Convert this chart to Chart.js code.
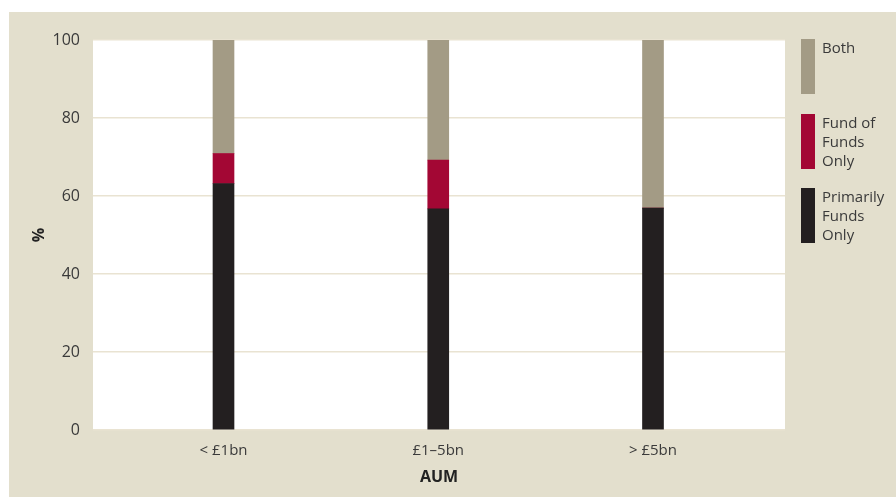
<!DOCTYPE html>
<html>
<head>
<meta charset="utf-8">
<script src="https://cdn.jsdelivr.net/npm/chart.js@4"></script>
<style>
  html, body { margin: 0; padding: 0; background: #fff; }
  canvas { display: block; }
</style>
</head>
<body>
<canvas id="aum" width="896" height="497"></canvas>
<script>
// AUM bands and the share (%) of each answer in every band
var categories = ['< £1bn', '£1–5bn', '> £5bn'];
var primarilyFunds = [63.2, 56.7, 56.9];
var fundOfFunds = [7.7, 12.5, 0];
var both = [29.1, 30.8, 43.1];
var yTicks = [0, 20, 40, 60, 80, 100];

var legendLines = {
    'Both': ['Both'],
    'Fund of Funds Only': ['Fund of', 'Funds', 'Only'],
    'Primarily Funds Only': ['Primarily', 'Funds', 'Only']
};

var FONT = '"Open Sans", "DejaVu Sans", sans-serif';
var BEIGE = '#e3dfcd';
var TEXT = '#3a3a3a';

function points(values) {
    return values.map((v, i) => ({ x: i, y: v }));
}

// beige panel behind everything, white plotting area on top of it
var panel = {
    id: 'panel',
    beforeDraw: (chart) => {
        var ctx = chart.ctx, a = chart.chartArea;
        ctx.save();
        ctx.fillStyle = '#ffffff';
        ctx.fillRect(0, 0, chart.width, chart.height);
        ctx.fillStyle = BEIGE;
        ctx.fillRect(9, 12, chart.width - 9, chart.height - 12);
        ctx.fillStyle = '#ffffff';
        ctx.fillRect(a.left, a.top, a.right - a.left, a.bottom - a.top);
        ctx.restore();
    }
};

// tall swatches with wrapped labels, top to bottom = top of stack first
var sideLegend = {
    id: 'sideLegend',
    afterDraw: (chart) => {
        var ctx = chart.ctx;
        var tops = [39, 114, 188];
        var sets = chart.data.datasets.slice().reverse();
        ctx.save();
        ctx.font = '15px ' + FONT;
        ctx.textBaseline = 'alphabetic';
        ctx.textAlign = 'left';
        sets.forEach((ds, k) => {
            var top = tops[k];
            ctx.fillStyle = ds.backgroundColor;
            ctx.fillRect(801, top, 14, 55);
            ctx.fillStyle = TEXT;
            legendLines[ds.label].forEach((line, j) => {
                ctx.fillText(line, 822, top + 14 + j * 19);
            });
        });
        ctx.restore();
    }
};

var config = {
    type: 'bar',
    data: {
        datasets: [
            { label: 'Primarily Funds Only', data: points(primarilyFunds), backgroundColor: '#231f20' },
            { label: 'Fund of Funds Only', data: points(fundOfFunds), backgroundColor: '#a30734' },
            { label: 'Both', data: points(both), backgroundColor: '#a39b85' }
        ]
    },
    options: {
        responsive: false,
        animation: false,
        layout: { padding: { left: 0, top: 40, right: 111, bottom: 0 } },
        datasets: { bar: { barThickness: 21, borderWidth: 0 } },
        plugins: {
            legend: { display: false },
            tooltip: { enabled: false }
        },
        scales: {
            x: {
                type: 'linear',
                stacked: true,
                offset: false,
                min: -0.6077,
                max: 2.6147,
                afterBuildTicks: (scale) => {
                    scale.ticks = categories.map((c, i) => ({ value: i }));
                },
                afterFit: (scale) => { scale.height = 67; },
                grid: { display: false, drawTicks: false },
                border: { display: false },
                ticks: {
                    padding: 12,
                    autoSkip: false,
                    maxRotation: 0,
                    color: TEXT,
                    font: { family: FONT, size: 15 },
                    callback: (v) => categories[v]
                },
                title: {
                    display: true,
                    text: 'AUM',
                    color: '#222',
                    font: { family: FONT, size: 16, weight: 'bold' },
                    padding: { top: 0, bottom: 10 }
                }
            },
            y: {
                stacked: true,
                min: 0,
                max: 100,
                afterBuildTicks: (scale) => {
                    scale.ticks = yTicks.map((v) => ({ value: v }));
                },
                afterFit: (scale) => { scale.width = 93; },
                grid: { color: '#e9e3d2', lineWidth: 1.5, drawTicks: false },
                border: { display: false },
                ticks: {
                    padding: 13,
                    color: TEXT,
                    font: { family: FONT, size: 16 }
                },
                title: {
                    display: true,
                    text: '%',
                    color: '#222',
                    font: { family: FONT, size: 16, weight: 'bold' },
                    padding: { top: 30, bottom: 0 }
                }
            }
        }
    },
    plugins: [panel, sideLegend]
};

new Chart(document.getElementById('aum').getContext('2d'), config);
</script>
</body>
</html>
